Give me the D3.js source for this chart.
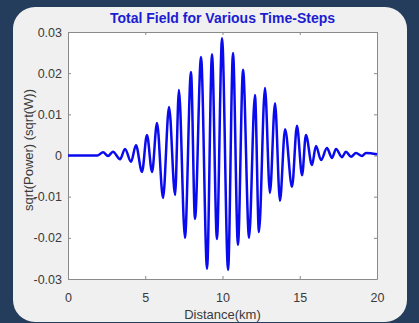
<!DOCTYPE html>
<html>
<head>
<meta charset="utf-8">
<script src="https://cdn.jsdelivr.net/npm/d3@7"></script>
<style>
  html, body { margin: 0; padding: 0; background: #243d5c; }
  svg { display: block; font-family: "Liberation Sans", Arial, sans-serif; }
</style>
</head>
<body>
<div id="plot"></div>
<script>
// field samples: distance (km) at each turning point, and the amplitude there
const distance = [
  0, 1.9, 2.27, 2.59, 2.91, 3.37, 3.69, 4.08, 4.40, 4.79, 5.11, 5.44, 5.76, 6.15,
  6.54, 6.93, 7.18, 7.57, 7.96, 8.22, 8.61, 9.00, 9.32, 9.64, 9.97, 10.36, 10.68,
  11.00, 11.33, 11.72, 12.10, 12.36, 12.75, 13.07, 13.40, 13.72, 14.05, 14.50,
  14.82, 15.15, 15.40, 15.79, 16.05, 16.38, 16.76, 17.09, 17.35, 17.73, 17.99,
  18.32, 18.64, 19.03, 19.29, 20
];
const field = [
  0, 0, 0.0008, -0.0001, 0.0009, -0.0009, 0.0016, -0.0015, 0.0025, -0.004, 0.005,
  -0.004, 0.0079, -0.0103, 0.0118, -0.0096, 0.0159, -0.020, 0.0203, -0.0154,
  0.0239, -0.0275, 0.0246, -0.0203, 0.0285, -0.0278, 0.0249, -0.0217, 0.0208,
  -0.020, 0.0147, -0.0186, 0.0164, -0.0091, 0.0127, -0.011, 0.0064, -0.0076,
  0.0072, -0.0048, 0.005, -0.0023, 0.0023, -0.0011, 0.0018, -0.0006, 0.0016,
  -0.0004, 0.0009, -0.0003, 0.0006, -0.0001, 0.0006, 0.0003
];
const xTicks = [0, 5, 10, 15, 20];
const yTicks = [-0.03, -0.02, -0.01, 0, 0.01, 0.02, 0.03];

const svgWidth = 419;
const svgHeight = 323;
const margin = { top: 32, bottom: 44, left: 68, right: 42 };

const svg = d3.select('#plot').append('svg')
    .attr('width', svgWidth)
    .attr('height', svgHeight);

// rounded panel behind the figure
svg.append('rect')
    .attr('x', 13).attr('y', 7)
    .attr('width', 394).attr('height', 315)
    .attr('rx', 22)
    .attr('fill', '#f0f0f0');

const x = d3.scaleLinear()
    .domain([0, 20])
    .range([margin.left, svgWidth - margin.right]);
const y = d3.scaleLinear()
    .domain([-0.03, 0.03])
    .range([svgHeight - margin.bottom, margin.top]);

svg.append('rect')
    .attr('x', x(0)).attr('y', y(0.03))
    .attr('width', x(20) - x(0)).attr('height', y(-0.03) - y(0.03))
    .attr('fill', '#ffffff');

// plain hyphen for negatives, like the MATLAB labels
const fmt = d => d === 0 ? '0' : d.toFixed(2);

function styleAxis(g) {
  g.select('.domain').attr('stroke', '#8a8a8a');
  g.selectAll('.tick line').attr('stroke', '#8a8a8a');
  g.selectAll('.tick text').attr('fill', '#3a3a3a').style('font-size', '12.5px');
}

// bottom + left axes with labels, ticks pointing inward
svg.append('g')
    .attr('transform', `translate(0,${y(-0.03)})`)
    .call(d3.axisBottom(x).tickValues(xTicks).tickSizeInner(-3).tickSizeOuter(0).tickPadding(14))
    .call(styleAxis);
svg.append('g')
    .attr('transform', `translate(${x(0)},0)`)
    .call(d3.axisLeft(y).tickValues(yTicks).tickFormat(fmt).tickSizeInner(-3).tickSizeOuter(0).tickPadding(6))
    .call(styleAxis);
// top + right box edges
svg.append('g')
    .attr('transform', `translate(0,${y(0.03)})`)
    .call(d3.axisTop(x).tickValues(xTicks).tickFormat('').tickSizeInner(-3).tickSizeOuter(0))
    .call(styleAxis);
svg.append('g')
    .attr('transform', `translate(${x(20)},0)`)
    .call(d3.axisRight(y).tickValues(yTicks).tickFormat('').tickSizeInner(-3).tickSizeOuter(0))
    .call(styleAxis);

const points = distance.map((d, i) => ({ d, v: field[i] }));

svg.append('path')
    .datum(points)
    .attr('fill', 'none')
    .attr('stroke', '#0a0aef')
    .attr('stroke-width', 2.5)
    .attr('stroke-linejoin', 'round')
    .attr('d', d3.line()
        .x(p => x(p.d))
        .y(p => y(p.v))
        .curve(d3.curveMonotoneX));

svg.append('text')
    .attr('x', (x(0) + x(20)) / 2)
    .attr('y', 23)
    .attr('text-anchor', 'middle')
    .attr('fill', '#1c1cd2')
    .style('font-size', '14px')
    .style('font-weight', 'bold')
    .text('Total Field for Various Time-Steps');

svg.append('text')
    .attr('x', (x(0) + x(20)) / 2)
    .attr('y', 319)
    .attr('text-anchor', 'middle')
    .attr('fill', '#3a3a3a')
    .style('font-size', '13px')
    .text('Distance(km)');

svg.append('text')
    .attr('transform', `translate(33,150) rotate(-90)`)
    .attr('text-anchor', 'middle')
    .attr('fill', '#3a3a3a')
    .style('font-size', '13px')
    .text('sqrt(Power) (sqrt(W))');
</script>
</body>
</html>
